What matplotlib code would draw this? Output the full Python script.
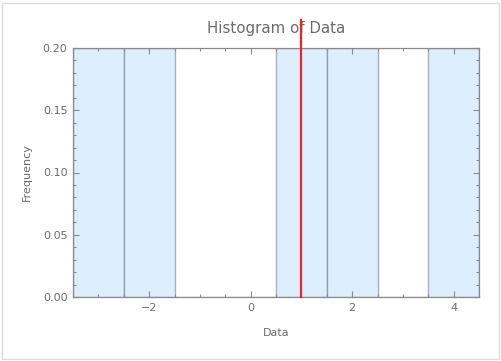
import numpy as np
import matplotlib.pyplot as plt
from matplotlib.patches import Rectangle
from matplotlib.ticker import MultipleLocator

# Datos
data = [-3, -2, 1, 2, 4]
bin_edges = [-3.5, -2.5, -1.5, -0.5, 0.5, 1.5, 2.5, 3.5, 4.5]
marker_x = 1  # mediana
x_ticks = [-2, 0, 2, 4]
y_ticks = [0.00, 0.05, 0.10, 0.15, 0.20]

gray_txt = '#6b6b6b'
gray_axis = '#8a8a8a'

fig = plt.figure(figsize=(5.01, 3.61), dpi=100)
ax = fig.add_axes([73 / 501, 1 - 297 / 361, 406 / 501, 249 / 361])

ax.hist(data, bins=bin_edges, density=True, color='#ddeeff',
        edgecolor=(0.42, 0.47, 0.52, 0.55), linewidth=1.0)
ax.plot([marker_x, marker_x], [0, 0.2225], color='#ee2222', lw=1.6,
        clip_on=False, zorder=5)

ax.set_xlim(bin_edges[0], bin_edges[-1])
ax.set_ylim(0, 0.2)
ax.set_xticks(x_ticks)
ax.set_xticklabels(['\u22122', '0', '2', '4'])
ax.set_yticks(y_ticks)
ax.set_yticklabels([f'{v:.2f}' for v in y_ticks])
ax.xaxis.set_minor_locator(MultipleLocator(0.5))
ax.yaxis.set_minor_locator(MultipleLocator(0.01))

ax.tick_params(which='both', direction='in', top=True, right=True,
               color=gray_axis, width=0.8)
ax.tick_params(which='major', length=4, labelsize=8, labelcolor=gray_txt, pad=4)
ax.tick_params(which='minor', length=2.2)
for s in ax.spines.values():
    s.set_color(gray_axis)
    s.set_linewidth(0.9)

ax.set_title('Histogram of Data', fontsize=10.8, color=gray_txt, pad=11)
ax.set_xlabel('Data', fontsize=8, color=gray_txt, labelpad=11)
ax.set_ylabel('Frequency', fontsize=8, color=gray_txt, labelpad=8)

fig.patches.append(Rectangle((2 / 501, 2 / 361), 497 / 501, 356 / 361,
                             transform=fig.transFigure, fill=False,
                             edgecolor='#dddddd', linewidth=1))

fig.savefig('out.png', dpi=100)
